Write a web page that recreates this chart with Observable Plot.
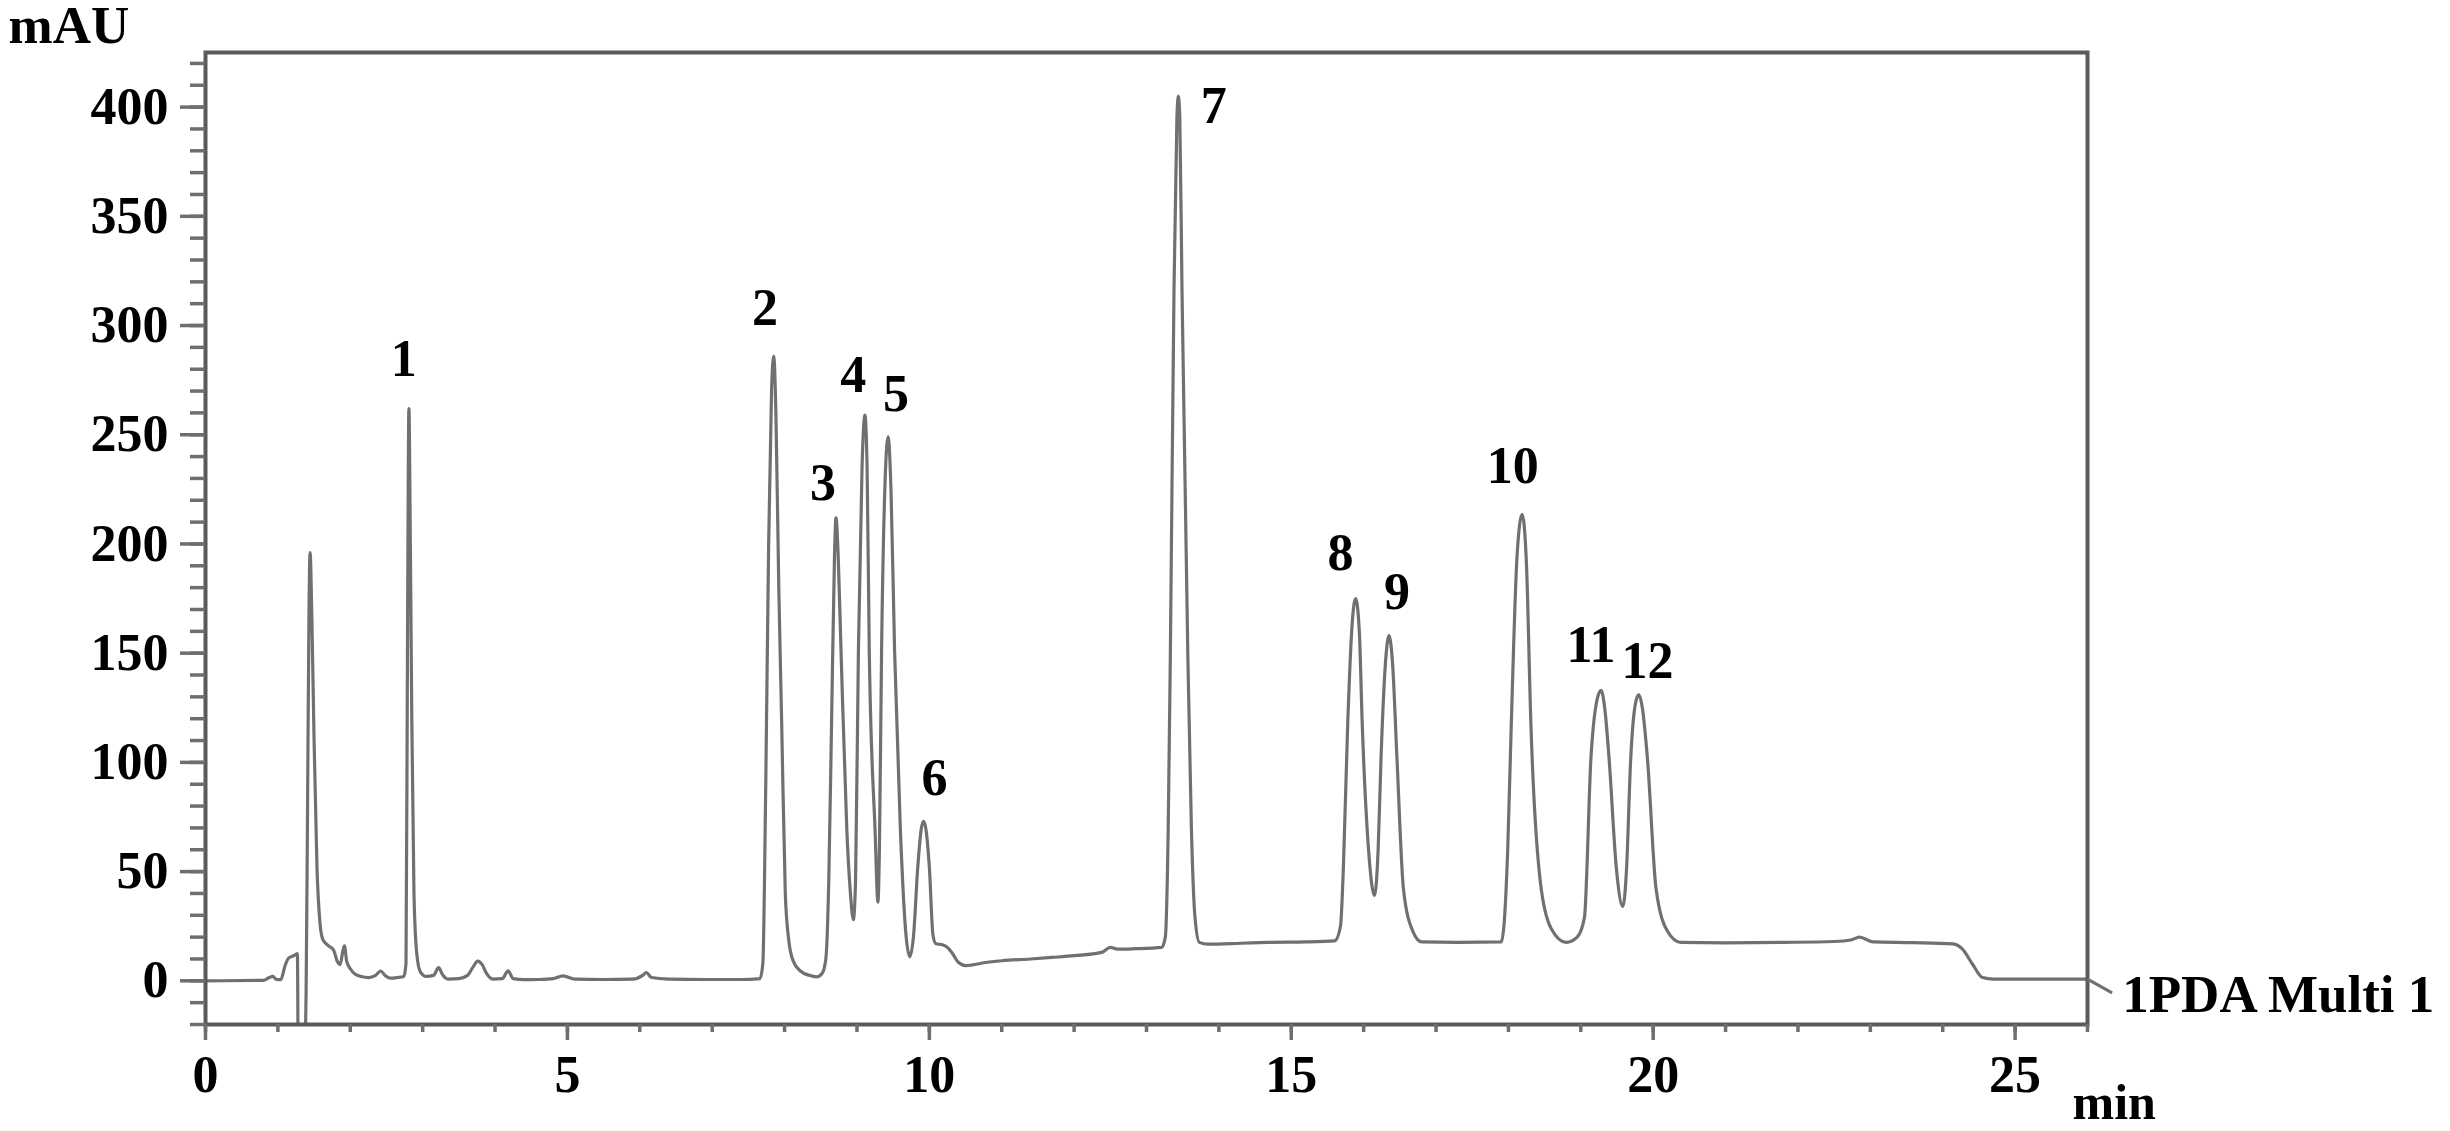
<!DOCTYPE html>
<html>
<head>
<meta charset="utf-8">
<script src="https://cdn.jsdelivr.net/npm/d3@7"></script>
<script src="https://cdn.jsdelivr.net/npm/@observablehq/plot@0.6"></script>
<style>
  html, body { margin: 0; padding: 0; background: #ffffff; }
  #chart { width: 2450px; height: 1131px; }
</style>
</head>
<body>
<div id="chart"></div>
<script>
// ---- Data (time in min, signal in mAU) ----
const timeMin = [
  0.00, 0.80, 0.88, 0.93, 0.98, 1.04, 1.10, 1.15, 1.22, 1.27,
  1.28, 1.37, 1.39, 1.41, 1.43, 1.445, 1.47, 1.50, 1.54, 1.58,
  1.62, 1.70, 1.77, 1.82, 1.86, 1.90, 1.92, 1.95, 2.00, 2.07,
  2.15, 2.25, 2.35, 2.42, 2.48, 2.55, 2.65, 2.74, 2.77, 2.79,
  2.81, 2.83, 2.85, 2.88, 2.92, 2.97, 3.05, 3.15, 3.22, 3.28,
  3.35, 3.50, 3.62, 3.70, 3.76, 3.82, 3.88, 3.97, 4.10, 4.18,
  4.25, 4.40, 4.60, 4.80, 4.94, 5.10, 5.50, 5.90, 6.04, 6.09,
  6.16, 6.40, 6.90, 7.40, 7.66, 7.70, 7.74, 7.78, 7.82, 7.85,
  7.88, 7.92, 7.96, 8.01, 8.06, 8.12, 8.22, 8.34, 8.44, 8.52,
  8.57, 8.61, 8.65, 8.69, 8.71, 8.74, 8.78, 8.86, 8.91, 8.95,
  8.98, 9.02, 9.07, 9.11, 9.14, 9.17, 9.25, 9.29, 9.31, 9.34,
  9.39, 9.43, 9.47, 9.52, 9.60, 9.68, 9.73, 9.78, 9.84, 9.89,
  9.92, 9.95, 10.00, 10.05, 10.09, 10.18, 10.26, 10.32, 10.40, 10.50,
  10.80, 11.00, 11.40, 11.69, 12.00, 12.38, 12.50, 12.60, 12.84, 13.21,
  13.26, 13.30, 13.33, 13.38, 13.42, 13.44, 13.46, 13.49, 13.57, 13.62,
  13.67, 13.73, 13.85, 14.30, 14.68, 15.20, 15.60, 15.68, 15.72, 15.78,
  15.84, 15.89, 15.94, 15.98, 16.07, 16.15, 16.20, 16.24, 16.30, 16.35,
  16.40, 16.46, 16.55, 16.68, 16.80, 17.30, 17.90, 17.94, 17.99, 18.04,
  18.12, 18.19, 18.25, 18.31, 18.44, 18.59, 18.80, 18.95, 19.05, 19.14,
  19.22, 19.28, 19.33, 19.39, 19.49, 19.58, 19.63, 19.69, 19.75, 19.80,
  19.85, 19.92, 20.04, 20.20, 20.38, 21.00, 21.80, 22.50, 22.73, 22.85,
  23.04, 23.60, 24.14, 24.27, 24.41, 24.55, 24.70, 25.50, 26.00
];
const absorbanceMAU = [
  0.0, 0.2, 1.5, 2.0, 0.6, 0.5, 7.0, 10.5, 11.5, 12.5,
  -30, -30, -5, 80, 170, 196, 165, 110, 52, 27,
  19, 16, 14, 9, 7.5, 14, 16, 9, 5.5, 3,
  2, 1.5, 2.5, 4.5, 2.5, 1.2, 1.5, 2.0, 8, 150,
  262, 200, 120, 40, 12, 4, 2, 2.5, 6, 2.5,
  0.8, 1.0, 2.5, 6.5, 9, 7.5, 3.5, 0.8, 1.0, 4.6,
  1.0, 0.5, 0.6, 1.0, 2.3, 0.8, 0.6, 0.8, 2.5, 3.8,
  1.5, 0.8, 0.6, 0.6, 1.0, 8, 90, 200, 270, 286,
  260, 180, 118, 40, 18, 9, 4.5, 2.5, 1.8, 3.5,
  10, 45, 120, 195, 212, 195, 151, 69, 40, 28,
  45, 151, 235, 259, 235, 151, 69, 36, 60, 151,
  230, 249, 225, 151, 69, 20, 11, 20, 52, 70,
  73, 70, 52, 21, 17, 16.5, 15, 12.5, 8.5, 7,
  8.5, 9.2, 10, 10.7, 11.5, 13, 15.3, 14.5, 14.7, 15.3,
  20, 70, 151, 317, 395, 405, 395, 317, 151, 70,
  29, 17.6, 16.8, 17.2, 17.6, 17.8, 18.3, 25, 52, 118,
  163, 175, 160, 118, 59, 39, 60, 102, 145, 158,
  145, 102, 42, 22.6, 17.8, 17.6, 17.8, 26, 60, 118,
  195, 213.6, 190, 118, 45.6, 24, 17.6, 20, 29, 102,
  128, 133, 125, 102, 52, 34, 50, 102, 126, 131,
  125, 102, 42, 22.6, 17.6, 17.4, 17.6, 18.0, 18.7, 20,
  17.8, 17.5, 16.9, 14.6, 7.7, 1.5, 0.8, 0.8, 0.8
];

// Peak numbers and where their labels sit (min, mAU)
const peakNumbers   = ["1", "2", "3", "4", "5", "6", "7", "8", "9", "10", "11", "12"];
const peakLabelTime = [2.74, 7.73, 8.53, 8.95, 9.54, 10.07, 13.93, 15.68, 16.46, 18.06, 19.14, 19.92];
const peakLabelMAU  = [284.5, 307.8, 227.7, 277, 268.4, 92.9, 400.4, 195.6, 178, 235.4, 153.4, 146.4];

// Channel label with its leader line
const channelName = ["1PDA Multi 1"];
const channelLeaderTime = [26.0, 26.34];
const channelLeaderMAU  = [0.8, -5.5];
const channelLabelTime = [26.48];
const channelLabelMAU  = [-6.5];

// Ticks
const xMajorTicks = [0, 5, 10, 15, 20, 25];
const xMinorTicks = [0,1,2,3,4,5,6,7,8,9,10,11,12,13,14,15,16,17,18,19,20,21,22,23,24,25,26];
const yMajorTicks = [0, 50, 100, 150, 200, 250, 300, 350, 400];
const yMinorTicks = [-20,-10,0,10,20,30,40,50,60,70,80,90,100,110,120,130,140,150,160,170,180,190,200,
  210,220,230,240,250,260,270,280,290,300,310,320,330,340,350,360,370,380,390,400,410,420];

const yUnit = "mAU";
const xUnit = "min";

// ---- Build ----
const trace = timeMin.map((t, i) => ({t, v: absorbanceMAU[i]}));
const labels = peakNumbers.map((n, i) => ({n, t: peakLabelTime[i], v: peakLabelMAU[i]}));
const leader = [{x1: channelLeaderTime[0], y1: channelLeaderMAU[0], x2: channelLeaderTime[1], y2: channelLeaderMAU[1]}];
const chan = channelName.map((s, i) => ({s, t: channelLabelTime[i], v: channelLabelMAU[i]}));

const FONT = "'Liberation Serif', 'Times New Roman', Times, serif";
const FS = 52;
const TICK = "#6e6e6e";

const chart = Plot.plot({
  width: 2450,
  height: 1131,
  marginLeft: 205,
  marginRight: 363,
  marginTop: 52,
  marginBottom: 107,
  style: {fontFamily: FONT, fontWeight: "bold", fontSize: FS + "px", color: "#000", background: "#fff", overflow: "visible"},
  x: {domain: [0, 26]},
  y: {domain: [-20, 425]},
  marks: [
    Plot.line(trace, {x: "t", y: "v", stroke: "#707070", strokeWidth: 3.2, curve: "monotone-x", clip: true}),
    Plot.frame({stroke: "#5a5a5a", strokeWidth: 4}),
    Plot.axisY(yMinorTicks, {tickSize: 15, tickFormat: () => "", stroke: TICK, strokeWidth: 3.5, label: null}),
    Plot.axisY(yMajorTicks, {tickSize: 25, tickPadding: 12, stroke: TICK, strokeWidth: 3.5, label: null,
      fontSize: FS, fontFamily: FONT, fontWeight: "bold", fill: "#000"}),
    Plot.axisX(xMinorTicks, {tickSize: 8, tickFormat: () => "", stroke: TICK, strokeWidth: 3.5, label: null}),
    Plot.axisX(xMajorTicks, {tickSize: 16, tickPadding: 15, stroke: TICK, strokeWidth: 3.5, label: null,
      fontSize: FS, fontFamily: FONT, fontWeight: "bold", fill: "#000"}),
    Plot.text(labels, {x: "t", y: "v", text: "n", fontSize: FS, fontFamily: FONT, fontWeight: "bold",
      fill: "#000", textAnchor: "middle", lineAnchor: "middle"}),
    Plot.link(leader, {x1: "x1", y1: "y1", x2: "x2", y2: "y2", stroke: "#707070", strokeWidth: 3}),
    Plot.text(chan, {x: "t", y: "v", text: "s", fontSize: 53, fontFamily: FONT, fontWeight: "bold",
      fill: "#000", textAnchor: "start", lineAnchor: "middle"}),
    Plot.text([yUnit], {frameAnchor: "top-left", dx: -197, dy: -10, fontSize: 53, fontFamily: FONT,
      fontWeight: "bold", fill: "#000", textAnchor: "start", lineAnchor: "bottom"}),
    Plot.text([xUnit], {frameAnchor: "bottom-right", dx: -15, dy: 94, fontSize: 50, fontFamily: FONT,
      fontWeight: "bold", fill: "#000", textAnchor: "start", lineAnchor: "bottom"})
  ]
});
document.getElementById("chart").appendChild(chart);
</script>
</body>
</html>
